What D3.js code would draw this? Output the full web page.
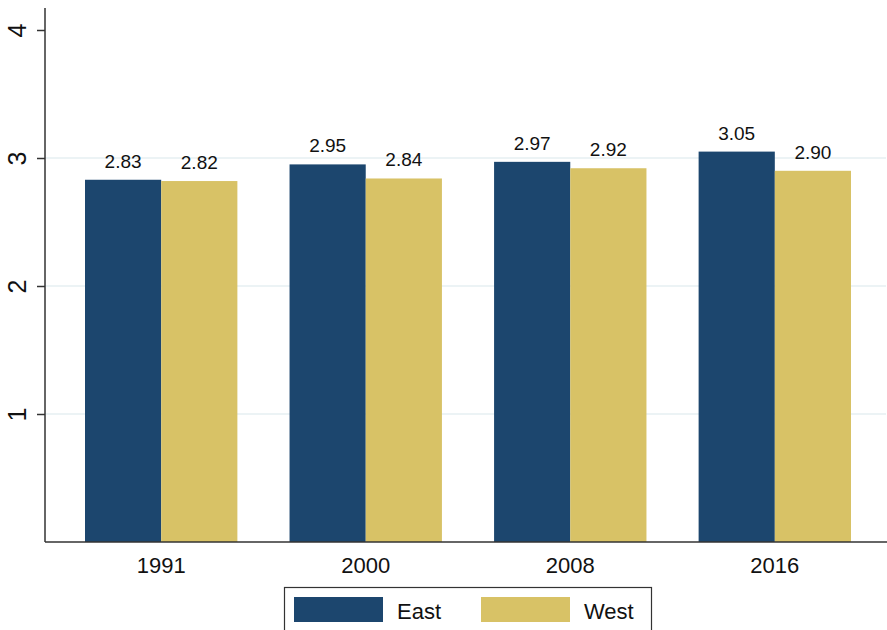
<!DOCTYPE html>
<html>
<head>
<meta charset="utf-8">
<script src="https://cdn.jsdelivr.net/npm/d3@7"></script>
<style>
  body { margin: 0; background: #fff; }
  svg { display: block; font-family: "Liberation Sans", Arial, sans-serif; }
</style>
</head>
<body>
<div id="stage"></div>
<script>
const years = ["1991", "2000", "2008", "2016"];
const series = ["East", "West"];
const east = [2.83, 2.95, 2.97, 3.05];
const west = [2.82, 2.84, 2.92, 2.90];
const yTicks = [1, 2, 3, 4];

const colors = { East: "#1c466e", West: "#d8c266" };

const width = 887, height = 630;
const plot = { left: 45, right: 886, top: 8, bottom: 542 };

const svg = d3.select("#stage").append("svg")
  .attr("width", width)
  .attr("height", height);

// bars span 85..851, outer gaps handled by the range
const x0 = d3.scaleBand()
  .domain(years)
  .range([85, 851])
  .paddingInner(0.255)
  .paddingOuter(0);

const x1 = d3.scaleBand()
  .domain(series)
  .range([0, x0.bandwidth()]);

const y = d3.scaleLinear()
  .domain([0, 4])
  .range([plot.bottom, 30]);

// gridlines
svg.append("g")
  .selectAll("line")
  .data(yTicks.filter(d => d < 4))
  .join("line")
  .attr("x1", plot.left)
  .attr("x2", plot.right)
  .attr("y1", d => y(d))
  .attr("y2", d => y(d))
  .attr("stroke", "#e6eff2")
  .attr("stroke-width", 1.5);

const rows = years.map((yr, i) => ({ year: yr, East: east[i], West: west[i] }));

const groups = svg.append("g")
  .selectAll("g")
  .data(rows)
  .join("g")
  .attr("transform", d => `translate(${x0(d.year)},0)`);

groups.selectAll("rect")
  .data(d => series.map(s => ({ key: s, value: d[s] })))
  .join("rect")
  .attr("x", d => x1(d.key))
  .attr("width", x1.bandwidth())
  .attr("y", d => y(d.value))
  .attr("height", d => y(0) - y(d.value))
  .attr("fill", d => colors[d.key]);

groups.selectAll("text")
  .data(d => series.map(s => ({ key: s, value: d[s] })))
  .join("text")
  .attr("x", d => x1(d.key) + x1.bandwidth() / 2)
  .attr("y", d => y(d.value) - 12)
  .attr("text-anchor", "middle")
  .style("font-size", "19px")
  .attr("fill", "#111")
  .text(d => d.value.toFixed(2));

// y axis
const yAxis = svg.append("g")
  .attr("transform", `translate(${plot.left},0)`)
  .call(d3.axisLeft(y).tickValues(yTicks).tickSize(8).tickFormat(d3.format("d")));
yAxis.select(".domain").attr("d", `M0,${plot.top}V${plot.bottom}`).attr("stroke", "#333").attr("stroke-width", 1.5);
yAxis.selectAll(".tick line").attr("stroke", "#333").attr("stroke-width", 1.5);
yAxis.selectAll(".tick text")
  .style("font-size", "25px")
  .attr("fill", "#111")
  .attr("text-anchor", "middle")
  .attr("dy", null)
  .attr("x", 0)
  .attr("y", -19)
  .attr("transform", "rotate(-90)");

// x axis
const xAxis = svg.append("g")
  .attr("transform", `translate(0,${plot.bottom})`)
  .call(d3.axisBottom(x0).tickSize(0));
xAxis.select(".domain").attr("d", `M${plot.left},0H${width}`).attr("stroke", "#333").attr("stroke-width", 1.5);
xAxis.selectAll(".tick text")
  .style("font-size", "22px")
  .attr("fill", "#111")
  .attr("dy", null)
  .attr("y", 31);

// legend
const legend = svg.append("g");
legend.append("rect")
  .attr("x", 284.5).attr("y", 587.5)
  .attr("width", 367).attr("height", 60)
  .attr("fill", "#fff")
  .attr("stroke", "#333").attr("stroke-width", 1.2);

const legendX = d3.scaleOrdinal().domain(series).range([294, 481]);
const items = legend.selectAll("g.item")
  .data(series)
  .join("g")
  .attr("class", "item")
  .attr("transform", d => `translate(${legendX(d)},597)`);
items.append("rect")
  .attr("width", 89).attr("height", 25)
  .attr("fill", d => colors[d]);
items.append("text")
  .attr("x", 103).attr("y", 22)
  .style("font-size", "22px")
  .attr("fill", "#111")
  .text(d => d);
</script>
</body>
</html>
